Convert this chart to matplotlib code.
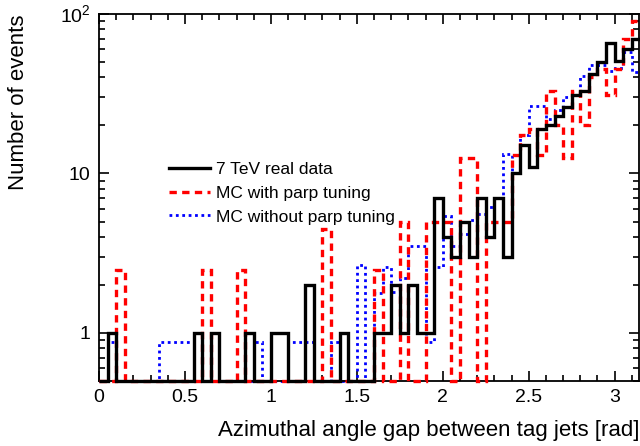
import numpy as np
import matplotlib
matplotlib.use("Agg")
import matplotlib.pyplot as plt
from matplotlib.ticker import MultipleLocator, FixedLocator, FixedFormatter, LogLocator, NullFormatter
from matplotlib.lines import Line2D

# ---- data ----
bin_edges = np.round(np.arange(0, 3.15 + 0.001, 0.05), 2)

data_7tev = [0, 1, 0, 0, 0, 0, 0, 0, 0, 0,
             0, 1, 0, 1, 0, 0, 0, 1, 0, 0,
             1, 1, 0, 0, 2, 0, 0, 0, 1, 0,
             0, 0, 1, 1, 2, 1, 2, 1, 1, 7,
             4, 3, 5, 3, 7, 4, 7, 3, 10, 15,
             11, 19, 20, 23, 26, 31, 33, 42, 50, 66,
             51, 60, 70]

mc_parp = [0, 0, 2.5, 0, 0, 0, 0, 0, 0, 0,
           0, 0, 2.5, 0, 0, 0, 2.5, 0, 0, 0,
           0, 0, 0, 0, 0, 0, 4.5, 0, 0, 0,
           0, 0, 2.5, 0, 0, 5, 0, 0, 5, 5,
           5, 0, 12.5, 12.5, 0, 5, 5, 5, 13, 17.5,
           19, 13, 33, 20, 12.5, 33, 20, 40, 45, 31,
           45, 70, 90]

mc_noparp = [0, 0.88, 0, 0, 0, 0, 0, 0.88, 0.88, 0.88,
             0.88, 0, 0, 0, 0, 0, 0, 0, 0.88, 0,
             0, 0, 0.88, 0.88, 0.88, 0, 0, 0.88, 0, 0,
             2.67, 0, 1.77, 2.6, 1.8, 2.2, 3.5, 3.5, 0.88, 2.6,
             5.4, 3.5, 4.2, 5.1, 5.6, 6.2, 7.0, 13.3, 10, 17.5,
             26.6, 26.6, 22, 25, 30, 31, 41, 48, 48, 44,
             46, 58, 43]

labels = ["7 TeV real data", "MC with parp tuning", "MC without parp tuning"]
x_label = "Azimuthal angle gap between tag jets [rad]"
y_label = "Number of events"

plt.rcParams['font.family'] = ['Liberation Sans', 'DejaVu Sans']
plt.rcParams['mathtext.fontset'] = 'custom'
plt.rcParams['mathtext.rm'] = 'Liberation Sans'

fig = plt.figure(figsize=(6.4, 4.46), dpi=100)
ax = fig.add_axes([99/640, 65/446, 540/640, 367/446])

ymin, ymax = 0.5, 100.0
red_ls = (0, (2.2, 1.6))
blue_ls = (0, (1, 1.3))

def plot_hist(vals, **kw):
    v = np.clip(np.asarray(vals, float), ymin, None)
    ax.stairs(v, bin_edges, baseline=None, clip_on=False, **kw)

plot_hist(mc_noparp, color='#0000ff', lw=2.0, linestyle=blue_ls, zorder=2)
plot_hist(mc_parp, color='#ff0000', lw=2.4, linestyle=red_ls, zorder=3)
plot_hist(data_7tev, color='black', lw=2.4, zorder=4)

ax.set_yscale('log')
ax.set_xlim(0, np.pi)
ax.set_ylim(ymin, ymax)

ax.xaxis.set_major_locator(MultipleLocator(0.5))
ax.xaxis.set_minor_locator(MultipleLocator(0.1))
ax.xaxis.set_major_formatter(plt.FuncFormatter(lambda v, p: f"{v:g}"))
ax.yaxis.set_major_locator(FixedLocator([1, 10, 100]))
ax.yaxis.set_major_formatter(FixedFormatter(['1', '10', r'$10^{2}$']))
ax.yaxis.set_minor_locator(LogLocator(base=10, subs=np.arange(2, 10)))
ax.yaxis.set_minor_formatter(NullFormatter())

ax.tick_params(which='both', direction='in', top=True, right=True, labelsize=14, width=1.2)
ax.tick_params(which='major', length=7, pad=6)
ax.tick_params(which='minor', length=4)
for s in ax.spines.values():
    s.set_linewidth(1.3)

ax.set_xlabel(x_label, fontsize=16, loc='right', labelpad=10)
ax.set_ylabel(y_label, fontsize=16, loc='top', labelpad=22)

handles = [Line2D([], [], color='black', lw=2.4),
           Line2D([], [], color='#ff0000', lw=2.4, linestyle=red_ls),
           Line2D([], [], color='#0000ff', lw=2.0, linestyle=blue_ls)]
ax.legend(handles, labels, loc='upper left', bbox_to_anchor=(0.10, 0.64),
          frameon=False, fontsize=12.5, handlelength=2.4, labelspacing=0.5,
          handletextpad=0.35)

fig.savefig('out.png', dpi=100)
